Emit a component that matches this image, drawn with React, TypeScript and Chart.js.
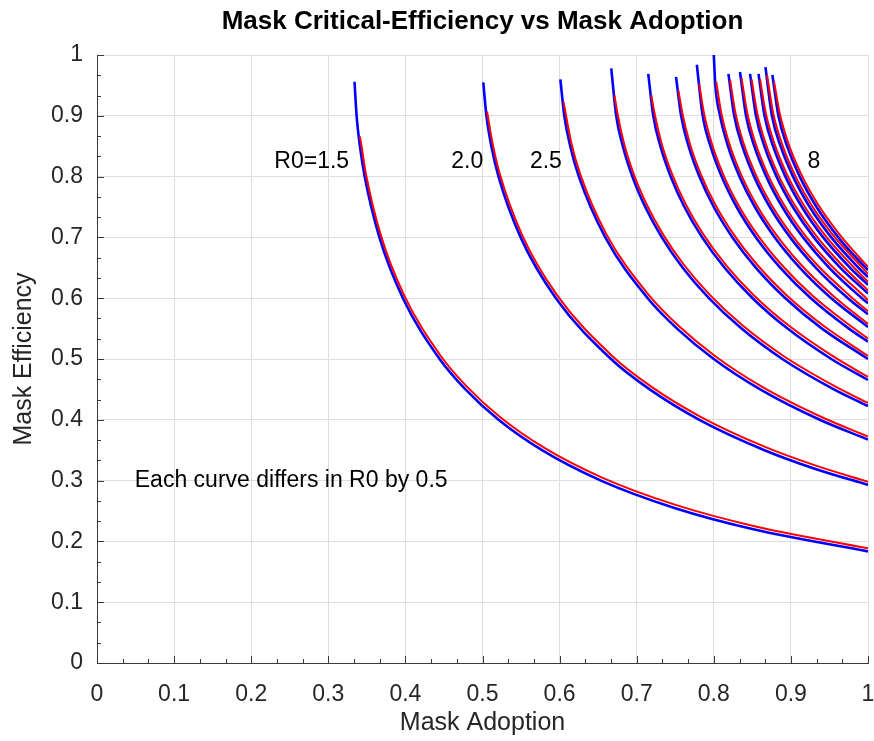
import React, { useEffect, useRef } from 'react';
import { Chart, registerables } from 'chart.js';
Chart.register(...registerables);

// R0 values of the curves (step 0.5)
const r0Values = [1.5, 2, 2.5, 3, 3.5, 4, 4.5, 5, 5.5, 6, 6.5, 7, 7.5, 8];

// Blue curves: [mask adoption, mask efficiency]
const blue15 = [[0.3340,0.956],[0.3367,0.9],[0.3410,0.85],[0.3472,0.8],[0.3663,0.7],[0.3968,0.6],[0.4444,0.5],[0.4779,0.45],[0.5208,0.4],[0.5772,0.35],[0.6536,0.3],[0.75,0.2546],[0.85,0.2204],[1,0.1835]];
const blue20 = [[0.5010,0.955],[0.5051,0.9],[0.5115,0.85],[0.5208,0.8],[0.5495,0.7],[0.5952,0.6],[0.6667,0.5],[0.7169,0.45],[0.7813,0.4],[0.8658,0.35],[0.93,0.32],[1,0.2929]];
const blue25 = [[0.6010,0.96],[0.6061,0.9],[0.6138,0.85],[0.625,0.8],[0.6593,0.7],[0.7143,0.6],[0.7524,0.55],[0.8,0.5],[0.8602,0.45],[0.9375,0.4],[1,0.3675]];
const blue30 = [[0.6670,0.978],[0.6734,0.9],[0.6820,0.85],[0.6944,0.8],[0.7111,0.75],[0.7326,0.7],[0.7597,0.65],[0.7937,0.6],[0.8360,0.55],[0.8889,0.5],[0.9558,0.45],[1,0.4226]];
const blue35 = [[0.7150,0.969],[0.7215,0.9],[0.7307,0.85],[0.7441,0.8],[0.7619,0.75],[0.7849,0.7],[0.8140,0.65],[0.8503,0.6],[0.8957,0.55],[0.9524,0.5],[1,0.4655]];
const blue40 = [[0.7510,0.964],[0.7576,0.9],[0.7673,0.85],[0.7813,0.8],[0.8,0.75],[0.8242,0.7],[0.8547,0.65],[0.8929,0.6],[0.9404,0.55],[1,0.5]];
const blue45 = [[0.7780,0.984],[0.7856,0.9],[0.7957,0.85],[0.8102,0.8],[0.8296,0.75],[0.8547,0.7],[0.8864,0.65],[0.9259,0.6],[0.9753,0.55],[1,0.5286]];
const blue50 = [[0.8,1.0],[0.8020,0.95],[0.8081,0.9],[0.8184,0.85],[0.8333,0.8],[0.8533,0.75],[0.8791,0.7],[0.9117,0.65],[0.9524,0.6],[1,0.5528]];
const blue55 = [[0.8190,0.969],[0.8265,0.9],[0.8370,0.85],[0.8523,0.8],[0.8727,0.75],[0.8991,0.7],[0.9324,0.65],[0.9740,0.6],[1,0.5736]];
const blue60 = [[0.8340,0.972],[0.8418,0.9],[0.8525,0.85],[0.8681,0.8],[0.8889,0.75],[0.9158,0.7],[0.9497,0.65],[0.9921,0.6],[1,0.5918]];
const blue65 = [[0.8470,0.969],[0.8547,0.9],[0.8656,0.85],[0.8814,0.8],[0.9026,0.75],[0.9298,0.7],[0.9643,0.65],[1,0.6078]];
const blue70 = [[0.8580,0.969],[0.8658,0.9],[0.8769,0.85],[0.8929,0.8],[0.9143,0.75],[0.9419,0.7],[0.9768,0.65],[1,0.6220]];
const blue75 = [[0.8670,0.98],[0.8754,0.9],[0.8866,0.85],[0.9028,0.8],[0.9244,0.75],[0.9524,0.7],[0.9877,0.65],[1,0.6349]];
const blue80 = [[0.8760,0.967],[0.8838,0.9],[0.8951,0.85],[0.9115,0.8],[0.9333,0.75],[0.9615,0.7],[0.98,0.6727],[1,0.6464]];

// Red curves: [mask adoption, mask efficiency]
const red15 = [[0.3409,0.866],[0.3425,0.855],[0.3487,0.805],[0.3678,0.705],[0.3983,0.605],[0.4459,0.505],[0.4794,0.455],[0.5223,0.405],[0.5787,0.355],[0.6551,0.305],[0.7515,0.2596],[0.8515,0.2254],[1,0.1885]];
const red20 = [[0.5059,0.907],[0.5130,0.855],[0.5223,0.805],[0.5510,0.705],[0.5967,0.605],[0.6682,0.505],[0.7184,0.455],[0.7828,0.405],[0.8673,0.355],[0.9315,0.325],[1,0.298]];
const red25 = [[0.6051,0.923],[0.6153,0.855],[0.6265,0.805],[0.6608,0.705],[0.7158,0.605],[0.7539,0.555],[0.8015,0.505],[0.8617,0.455],[0.939,0.405],[1,0.3725]];
const red30 = [[0.6711,0.934],[0.6749,0.905],[0.6835,0.855],[0.6959,0.805],[0.7126,0.755],[0.7341,0.705],[0.7612,0.655],[0.7952,0.605],[0.8375,0.555],[0.8904,0.505],[0.9573,0.455],[1,0.4277]];
const red35 = [[0.7189,0.934],[0.7230,0.905],[0.7322,0.855],[0.7456,0.805],[0.7634,0.755],[0.7864,0.705],[0.8155,0.655],[0.8518,0.605],[0.8972,0.555],[0.9539,0.505],[1,0.4705]];
const red40 = [[0.7540,0.942],[0.7591,0.905],[0.7688,0.855],[0.7828,0.805],[0.8015,0.755],[0.8257,0.705],[0.8562,0.655],[0.8944,0.605],[0.9419,0.555],[1,0.505]];
const red45 = [[0.7810,0.953],[0.7871,0.905],[0.7972,0.855],[0.8117,0.805],[0.8311,0.755],[0.8562,0.705],[0.8879,0.655],[0.9274,0.605],[0.9768,0.555],[1,0.5336]];
const red50 = [[0.8031,0.956],[0.8096,0.905],[0.8199,0.855],[0.8348,0.805],[0.8548,0.755],[0.8806,0.705],[0.9132,0.655],[0.9539,0.605],[1,0.5578]];
const red55 = [[0.8211,0.959],[0.8280,0.905],[0.8385,0.855],[0.8538,0.805],[0.8742,0.755],[0.9006,0.705],[0.9339,0.655],[0.9755,0.605],[1,0.5786]];
const red60 = [[0.8360,0.962],[0.8433,0.905],[0.8540,0.855],[0.8696,0.805],[0.8904,0.755],[0.9173,0.705],[0.9512,0.655],[0.9936,0.605],[1,0.5968]];
const red65 = [[0.8490,0.96],[0.8562,0.905],[0.8671,0.855],[0.8829,0.805],[0.9041,0.755],[0.9313,0.705],[0.9658,0.655],[1,0.6128]];
const red70 = [[0.8600,0.96],[0.8673,0.905],[0.8784,0.855],[0.8944,0.805],[0.9158,0.755],[0.9434,0.705],[0.9783,0.655],[1,0.6270]];
const red75 = [[0.8691,0.967],[0.8769,0.905],[0.8881,0.855],[0.9043,0.805],[0.9259,0.755],[0.9539,0.705],[0.9892,0.655],[1,0.6399]];
const red80 = [[0.8782,0.956],[0.8853,0.905],[0.8966,0.855],[0.9130,0.805],[0.9348,0.755],[0.9630,0.705],[0.9813,0.6777],[1,0.6515]];

const blueCurves = [blue15, blue20, blue25, blue30, blue35, blue40, blue45, blue50, blue55, blue60, blue65, blue70, blue75, blue80];
const redCurves = [red15, red20, red25, red30, red35, red40, red45, red50, red55, red60, red65, red70, red75, red80];

// Tick labels
const xTickLabels = ['0', '0.1', '0.2', '0.3', '0.4', '0.5', '0.6', '0.7', '0.8', '0.9', '1'];
const yTickLabels = ['0', '0.1', '0.2', '0.3', '0.4', '0.5', '0.6', '0.7', '0.8', '0.9', '1'];

// Text annotations (in data coordinates)
const noteTexts = ['R0=1.5', '2.0', '2.5', '8', 'Each curve differs in R0 by 0.5'];
const noteX = [0.23, 0.4595, 0.5615, 0.9215, 0.049];
const noteY = [0.825, 0.825, 0.825, 0.825, 0.3];

const FONT = '"Liberation Sans", Arial, Helvetica, sans-serif';
const AXIS_COLOR = '#3a3a3a';
const TEXT_COLOR = '#262626';

export default function App() {
  const ref = useRef<HTMLCanvasElement>(null);

  useEffect(() => {
    document.body.style.margin = '0';
    const canvas = ref.current;
    if (!canvas) return;

    const toPts = (c: number[][]) => c.map(([x, y]) => ({ x, y }));
    const datasets: any[] = [
      ...redCurves.map((c, i) => ({
        label: 'red R0=' + r0Values[i],
        data: toPts(c),
        borderColor: '#ff0000',
        borderWidth: 2,
        pointRadius: 0,
        fill: false,
        cubicInterpolationMode: 'monotone',
      })),
      ...blueCurves.map((c, i) => ({
        label: 'blue R0=' + r0Values[i],
        data: toPts(c),
        borderColor: '#0000ff',
        borderWidth: 2.6,
        pointRadius: 0,
        fill: false,
        cubicInterpolationMode: 'monotone',
      })),
    ];

    const overlay = {
      id: 'overlay',
      afterDraw(chart: any) {
        const { ctx, chartArea } = chart;
        const xs = chart.scales.x;
        const ys = chart.scales.y;
        const L = chartArea.left, R = chartArea.right, T = chartArea.top, B = chartArea.bottom;
        ctx.save();
        // inward ticks
        ctx.strokeStyle = AXIS_COLOR;
        ctx.lineWidth = 1;
        ctx.beginPath();
        for (let k = 0; k <= 30; k++) {
          const v = k / 30;
          const major = k % 3 === 0;
          const len = major ? 7 : 4;
          const px = Math.round(xs.getPixelForValue(v)) + 0.5;
          ctx.moveTo(px, B);
          ctx.lineTo(px, B - len);
          const py = Math.round(ys.getPixelForValue(v)) + 0.5;
          ctx.moveTo(L, py);
          ctx.lineTo(L + len, py);
        }
        ctx.stroke();

        // annotations
        ctx.fillStyle = '#000';
        ctx.font = '23px ' + FONT;
        ctx.textAlign = 'left';
        ctx.textBaseline = 'middle';
        noteTexts.forEach((t, i) => {
          ctx.fillText(t, xs.getPixelForValue(noteX[i]), ys.getPixelForValue(noteY[i]));
        });

        // title
        ctx.textAlign = 'center';
        ctx.font = 'bold 26px ' + FONT;
        ctx.fillStyle = '#000';
        ctx.fillText('Mask Critical-Efficiency vs Mask Adoption', (L + R) / 2, 22);

        // axis titles
        ctx.font = '25px ' + FONT;
        ctx.fillStyle = TEXT_COLOR;
        ctx.fillText('Mask Adoption', (L + R) / 2, 723);
        ctx.translate(24, (T + B) / 2);
        ctx.rotate(-Math.PI / 2);
        ctx.fillText('Mask Efficiency', 0, 0);
        ctx.restore();
      },
    };

    const chart = new Chart(canvas, {
      type: 'line',
      data: { datasets },
      options: {
        animation: false,
        responsive: false,
        maintainAspectRatio: false,
        layout: { padding: { top: 55, right: 6, left: 0, bottom: 0 } },
        plugins: {
          legend: { display: false },
          tooltip: { enabled: false },
          title: { display: false },
        },
        elements: { line: { tension: 0 } },
        scales: {
          x: {
            type: 'linear',
            min: 0,
            max: 1,
            afterFit: (s: any) => { s.height = 78; s.paddingLeft = 0; s.paddingRight = 0; },
            ticks: {
              stepSize: 0.1,
              autoSkip: false,
              maxRotation: 0,
              padding: 18,
              color: TEXT_COLOR,
              font: { family: FONT, size: 23 },
              callback: (_v: any, i: number) => xTickLabels[i],
            },
            grid: { color: '#dedede', lineWidth: 1, drawTicks: false },
            border: { display: true, color: AXIS_COLOR, width: 1 },
          },
          y: {
            type: 'linear',
            min: 0,
            max: 1,
            afterFit: (s: any) => { s.width = 97; s.paddingTop = 0; s.paddingBottom = 0; },
            ticks: {
              stepSize: 0.1,
              autoSkip: false,
              padding: 14,
              color: TEXT_COLOR,
              font: { family: FONT, size: 23 },
              callback: (_v: any, i: number) => yTickLabels[i],
            },
            grid: { color: '#dedede', lineWidth: 1, drawTicks: false },
            border: { display: true, color: AXIS_COLOR, width: 1 },
          },
        },
      },
      plugins: [overlay],
    });

    return () => chart.destroy();
  }, []);

  return (
    <div style={{ width: 874, height: 741, background: '#fff' }}>
      <canvas ref={ref} width={874} height={741} style={{ display: 'block' }} />
    </div>
  );
}
